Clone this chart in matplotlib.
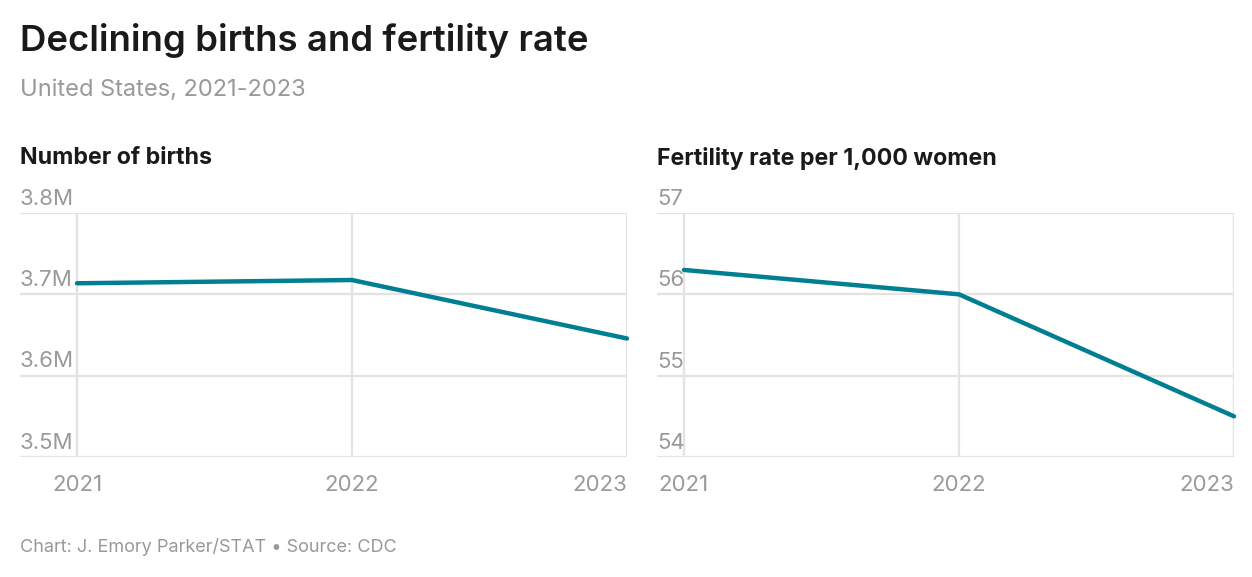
import matplotlib
matplotlib.use("Agg")
import matplotlib.pyplot as plt

years = [2021, 2022, 2023]
births_m = [3.7136, 3.7176, 3.6457]
fertility = [56.30, 56.00, 54.50]
births_ticks = [3.5, 3.6, 3.7, 3.8]
births_tick_labels = ["3.5M", "3.6M", "3.7M", "3.8M"]
fert_ticks = [54, 55, 56, 57]
fert_tick_labels = ["54", "55", "56", "57"]

TEAL = "#007f92"
GRID = "#e3e3e3"
GRAY = "#999999"
DARK = "#1a1a1a"
FONT = "Inter"

plt.rcParams["font.family"] = [FONT, "DejaVu Sans"]

W, H = 1252, 577
fig = plt.figure(figsize=(W / 100, H / 100), dpi=100)

def px_axes(x0, x1, y0, y1):
    return fig.add_axes([x0 / W, 1 - y1 / H, (x1 - x0) / W, (y1 - y0) / H])

def panel(ax, x_first_px, left_px, right_px, values, ticks, labels, title):
    span = (right_px - x_first_px) / 2.0
    left_pad = (x_first_px - left_px) / span
    ax.set_xlim(years[0] - left_pad, years[-1])
    ax.set_ylim(ticks[0], ticks[-1])
    for s in ax.spines.values():
        s.set_visible(False)
    ax.set_xticks([])
    ax.set_yticks([])
    for t in ticks:
        ax.axhline(t, color=GRID, lw=1.6, zorder=1)
    for yv in years:
        ax.axvline(yv, color=GRID, lw=1.6, zorder=1)
    ax.plot(years, values, color=TEAL, lw=3.2, solid_capstyle="round",
            solid_joinstyle="round", zorder=3, clip_on=False)
    ytr = ax.get_yaxis_transform()
    for t, lab in zip(ticks, labels):
        ax.annotate(lab, xy=(0, t), xycoords=ytr, xytext=(0, 3),
                    textcoords="offset points", ha="left", va="bottom",
                    fontsize=16, color=GRAY, zorder=2)
    xtr = ax.get_xaxis_transform()
    for i, yv in enumerate(years):
        ha = "center" if i < len(years) - 1 else "right"
        ax.annotate(str(yv), xy=(yv, 0), xycoords=xtr, xytext=(0, -13),
                    textcoords="offset points", ha=ha, va="top",
                    fontsize=16, color=GRAY)
    fig.text(left_px / W, 1 - 158 / H, title, fontsize=16.7, fontweight="bold",
             color=DARK, ha="left", va="center")

ax1 = px_axes(20, 627, 213, 457)
panel(ax1, 77, 20, 627, births_m, births_ticks, births_tick_labels, "Number of births")
ax2 = px_axes(657, 1234, 213, 457)
panel(ax2, 684, 657, 1234, fertility, fert_ticks, fert_tick_labels,
      "Fertility rate per 1,000 women")

fig.text(20 / W, 1 - 41 / H, "Declining births and fertility rate", fontsize=26.3,
         fontweight="semibold", color=DARK, ha="left", va="center")
fig.text(20 / W, 1 - 90 / H, "United States, 2021-2023", fontsize=17,
         color=GRAY, ha="left", va="center")
fig.text(20 / W, 1 - 547 / H, "Chart: J. Emory Parker/STAT \u2022 Source: CDC",
         fontsize=13, color=GRAY, ha="left", va="center")

fig.savefig("out.png", dpi=100, facecolor="white")
